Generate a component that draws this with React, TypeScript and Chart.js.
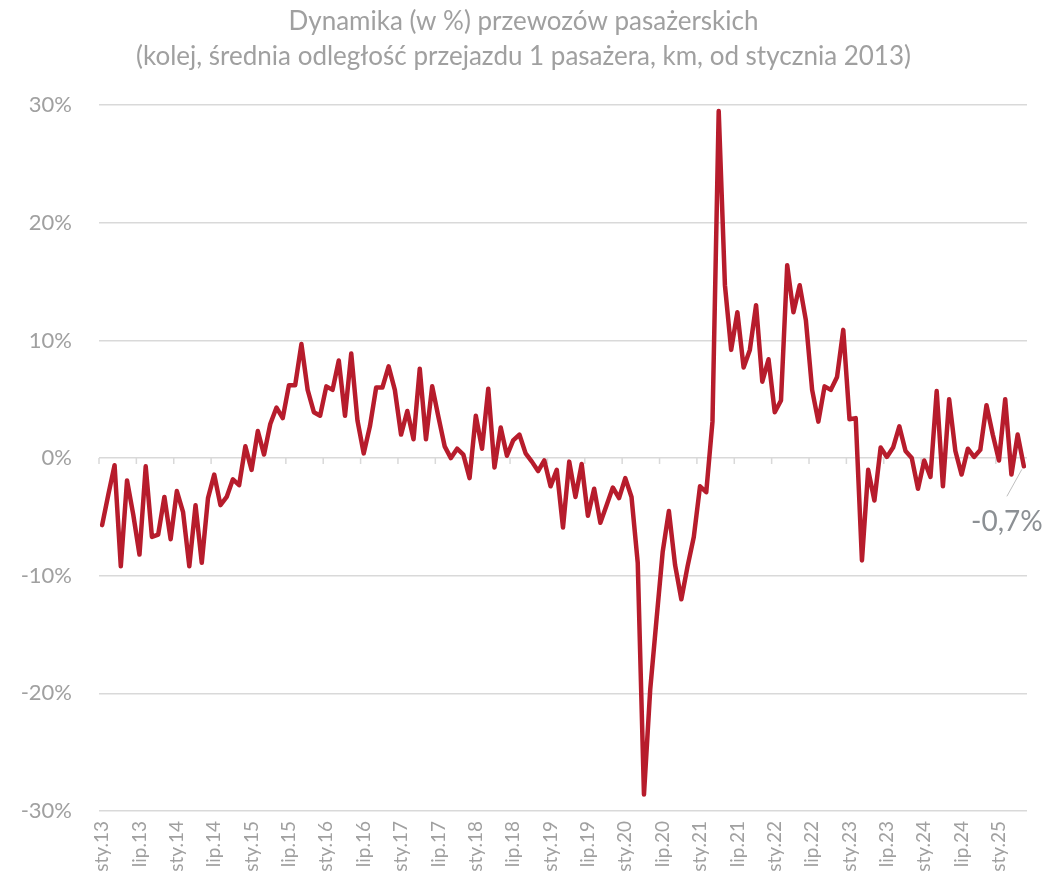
import React, { useEffect, useRef } from "react";
import { Chart, registerables } from "chart.js";

Chart.register(...registerables);

// Monthly dynamics (%), Jan 2013 – May 2025
const v2013 = [-5.7, -3.1, -0.6, -9.2, -1.9, -4.8, -8.2, -0.7, -6.7, -6.5, -3.3, -6.9];
const v2014 = [-2.8, -4.6, -9.2, -4.0, -8.9, -3.4, -1.4, -4.0, -3.3, -1.8, -2.3, 1.0];
const v2015 = [-1.0, 2.3, 0.3, 2.9, 4.3, 3.4, 6.2, 6.2, 9.7, 5.8, 3.9, 3.6];
const v2016 = [6.1, 5.8, 8.3, 3.6, 8.9, 3.2, 0.4, 2.7, 6.0, 6.0, 7.8, 5.8];
const v2017 = [2.0, 4.0, 1.6, 7.6, 1.6, 6.1, 3.5, 1.0, 0.0, 0.8, 0.3, -1.7];
const v2018 = [3.6, 0.8, 5.9, -0.8, 2.6, 0.2, 1.5, 2.0, 0.4, -0.3, -1.1, -0.2];
const v2019 = [-2.4, -1.0, -5.9, -0.3, -3.3, -0.5, -4.9, -2.6, -5.5, -4.0, -2.5, -3.4];
const v2020 = [-1.7, -3.3, -8.9, -28.6, -19.7, -13.8, -8.0, -4.5, -9.1, -12.0, -9.2, -6.7];
const v2021 = [-2.4, -2.9, 3.1, 29.5, 14.7, 9.2, 12.4, 7.7, 9.2, 13.0, 6.5, 8.4];
const v2022 = [3.9, 4.9, 16.4, 12.4, 14.7, 11.7, 5.8, 3.1, 6.1, 5.8, 6.9, 10.9];
const v2023 = [3.3, 3.4, -8.7, -1.0, -3.6, 0.9, 0.1, 0.9, 2.7, 0.6, 0.0, -2.6];
const v2024 = [-0.2, -1.6, 5.7, -2.4, 5.0, 0.6, -1.4, 0.8, 0.1, 0.7, 4.5, 2.0];
const v2025 = [-0.2, 5.0, -1.4, 2.0, -0.7];

const values = [
  ...v2013, ...v2014, ...v2015, ...v2016, ...v2017, ...v2018, ...v2019,
  ...v2020, ...v2021, ...v2022, ...v2023, ...v2024, ...v2025,
];

const monthNames = ["sty", "lut", "mar", "kwi", "maj", "cze", "lip", "sie", "wrz", "paź", "lis", "gru"];
const years = ["13", "14", "15", "16", "17", "18", "19", "20", "21", "22", "23", "24", "25"];
const labels: string[] = [];
years.forEach((y) => monthNames.forEach((m) => labels.push(m + "." + y)));
const categories = labels.slice(0, values.length);

const yTicks = [-30, -20, -10, 0, 10, 20, 30];

const titleLines = [
  "Dynamika (w %) przewozów pasażerskich",
  "(kolej, średnia odległość przejazdu 1 pasażera, km, od stycznia 2013)",
];

const FONT = "Lato, 'Open Sans', sans-serif";
const LINE_COLOR = "#b71c2c";
const GRID_COLOR = "#d9d9d9";
const TEXT_COLOR = "#a0a0a0";
const TICK_EVERY = 6;

// small tick marks on the zero line, at category boundaries every 6 months
const zeroTicksPlugin = {
  id: "zeroTicks",
  beforeDatasetsDraw(chart: any) {
    const xs = chart.scales.x;
    const ys = chart.scales.y;
    const y0 = ys.getPixelForValue(0);
    const half = (xs.getPixelForValue(1) - xs.getPixelForValue(0)) / 2;
    const ctx = chart.ctx;
    ctx.save();
    ctx.strokeStyle = GRID_COLOR;
    ctx.lineWidth = 1.5;
    ctx.beginPath();
    for (let i = 0; i < categories.length; i += TICK_EVERY) {
      const x = xs.getPixelForValue(i) - half;
      ctx.moveTo(x, y0);
      ctx.lineTo(x, y0 + 6);
    }
    ctx.stroke();
    ctx.restore();
  },
};

const lastLabelPlugin = {
  id: "lastLabel",
  afterDatasetsDraw(chart: any) {
    const meta = chart.getDatasetMeta(0);
    const pts = meta.data;
    if (!pts || !pts.length) return;
    const p = pts[pts.length - 1];
    const v = values[values.length - 1];
    const ctx = chart.ctx;
    ctx.save();
    ctx.strokeStyle = "#bfbfbf";
    ctx.lineWidth = 1;
    ctx.beginPath();
    ctx.moveTo(p.x - 2, p.y + 3);
    ctx.lineTo(p.x - 17, p.y + 30);
    ctx.stroke();
    ctx.fillStyle = "#8c9094";
    ctx.font = "28px " + FONT;
    ctx.textAlign = "center";
    ctx.textBaseline = "middle";
    ctx.fillText(v.toFixed(1).replace(".", ",") + "%", p.x - 17, p.y + 56);
    ctx.restore();
  },
};

export default function App() {
  const ref = useRef<HTMLCanvasElement | null>(null);

  useEffect(() => {
    document.body.style.margin = "0";
    document.body.style.overflow = "hidden";
    const canvas = ref.current;
    if (!canvas) return;
    const chart = new Chart(canvas, {
      type: "line",
      data: {
        labels: categories,
        datasets: [
          {
            data: values,
            borderColor: LINE_COLOR,
            backgroundColor: LINE_COLOR,
            borderWidth: 4.5,
            pointRadius: 0,
            tension: 0,
            borderJoinStyle: "round",
            borderCapStyle: "round",
          },
        ],
      },
      options: {
        responsive: false,
        animation: false,
        events: [],
        layout: { padding: { left: 0, right: 0, top: 0, bottom: 0 } },
        plugins: {
          legend: { display: false },
          tooltip: { enabled: false },
          title: {
            display: true,
            text: titleLines,
            color: TEXT_COLOR,
            font: { family: FONT, size: 26, weight: "normal", lineHeight: 1.35 },
            padding: { top: 4, bottom: 31 },
          },
        },
        scales: {
          x: {
            type: "category",
            position: "bottom",
            offset: true,
            grid: { display: false, drawTicks: false },
            border: { display: false },
            ticks: {
              autoSkip: false,
              maxRotation: 90,
              minRotation: 90,
              padding: 10,
              color: TEXT_COLOR,
              font: { family: FONT, size: 19 },
              callback: (_v: any, i: number) => (i % TICK_EVERY === 0 ? categories[i] : ""),
            },
            afterFit: (s: any) => {
              s.height = 70;
              s.paddingLeft = 0;
              s.paddingRight = 20;
            },
          },
          y: {
            type: "linear",
            min: -30,
            max: 30,
            afterBuildTicks: (s: any) => {
              s.ticks = yTicks.map((v) => ({ value: v }));
            },
            grid: { color: GRID_COLOR, lineWidth: 1.5, drawTicks: false },
            border: { display: false },
            ticks: {
              padding: 27,
              color: TEXT_COLOR,
              font: { family: FONT, size: 22 },
              callback: (v: any) => v + "%",
            },
            afterFit: (s: any) => {
              s.width = 99;
            },
          },
        },
      },
      plugins: [zeroTicksPlugin, lastLabelPlugin],
    } as any);
    return () => chart.destroy();
  }, []);

  return (
    <div style={{ position: "absolute", left: 0, top: 0, width: 1047, height: 881, overflow: "hidden" }}>
      <canvas ref={ref} width={1047} height={881} style={{ width: 1047, height: 881, display: "block" }} />
    </div>
  );
}
